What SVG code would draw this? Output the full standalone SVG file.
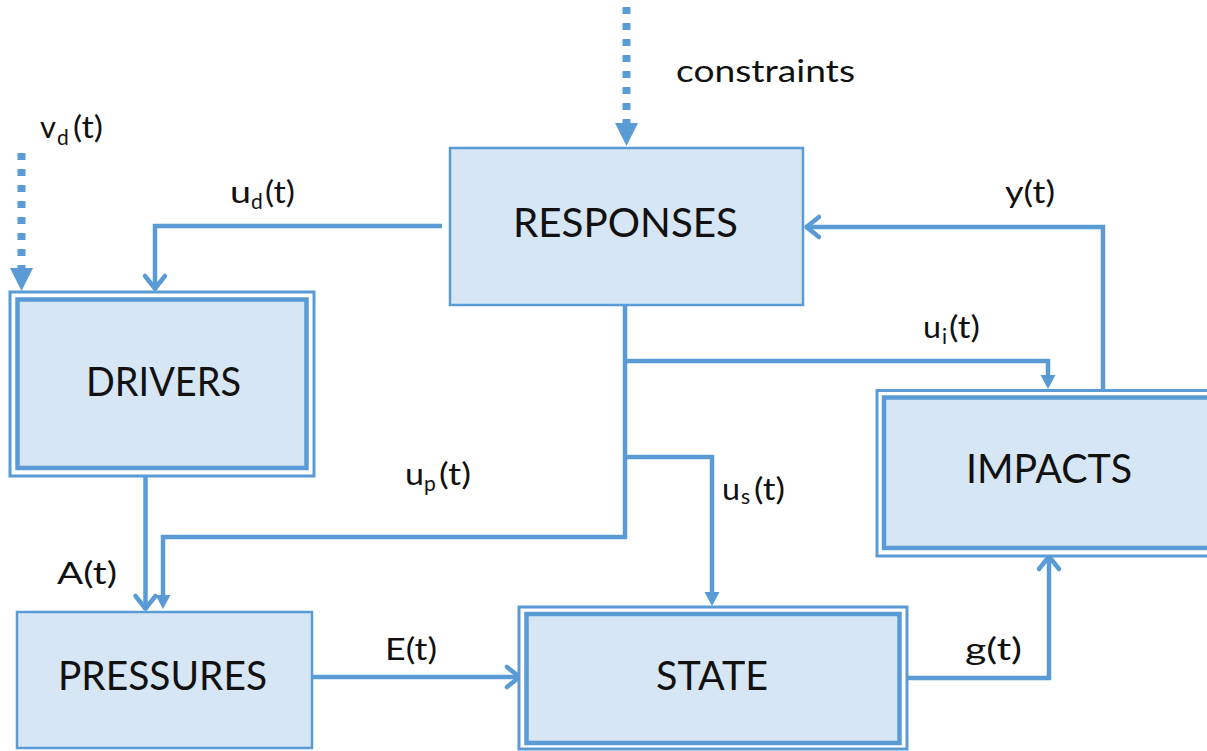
<svg xmlns="http://www.w3.org/2000/svg" width="1207" height="751" viewBox="0 0 1207 751">
<style>
.box{fill:#D7E6F4;stroke:#5B9BD5;stroke-width:2.5}
.outer{fill:#FFFFFF;stroke:#5B9BD5;stroke-width:3}
.inner{fill:#D7E6F4;stroke:#5B9BD5;stroke-width:4.5}
.node{font-family:Lato,"Liberation Sans",sans-serif;font-size:40px;fill:#111;text-anchor:middle}
.lbl{font-family:Lato,"Liberation Sans",sans-serif;font-size:31px;fill:#111}
.sub{font-size:21px}
.wire{fill:none;stroke:#5B9BD5;stroke-width:4.5;stroke-linejoin:miter}
.dot{fill:none;stroke:#5B9BD5;stroke-width:8;stroke-dasharray:7 9}
</style>
<defs>
<marker id="chev" markerUnits="userSpaceOnUse" orient="auto" refX="0" refY="0" markerWidth="40" markerHeight="40" overflow="visible">
<path d="M-14,-10 L-1.5,0 L-14,10" fill="none" stroke="#5B9BD5" stroke-width="4.5" stroke-linecap="round" stroke-linejoin="round"/>
</marker>
<marker id="tri" markerUnits="userSpaceOnUse" orient="auto" refX="0" refY="0" markerWidth="40" markerHeight="40" overflow="visible">
<path d="M-7,-7.5 L7,0 L-7,7.5 Z" fill="#5B9BD5"/>
</marker>
<marker id="bigtri" markerUnits="userSpaceOnUse" orient="auto" refX="0" refY="0" markerWidth="50" markerHeight="50" overflow="visible">
<path d="M0,-11.5 L23,0 L0,11.5 Z" fill="#5B9BD5"/>
</marker>
</defs>

<g id="connectors">
<path class="dot" d="M626.5,7 L626.5,123" marker-end="url(#bigtri)"/>
<path class="dot" d="M21.5,153 L21.5,268" marker-end="url(#bigtri)"/>
<path class="wire" d="M442,226 L155,226 L155,290" marker-end="url(#chev)"/>
<path class="wire" d="M1103,397 L1103,227 L805,227" marker-end="url(#chev)"/>
<path class="wire" d="M145.5,477 L145.5,610" marker-end="url(#chev)"/>
<path class="wire" d="M312,677 L521,677" marker-end="url(#chev)"/>
<path class="wire" d="M903,678 L1049,678 L1049,555" marker-end="url(#chev)"/>
<path class="wire" d="M625,305 L625,537 L163,537 L163,602" marker-end="url(#tri)"/>
<path class="wire" d="M625,361 L1048,361 L1048,382" marker-end="url(#tri)"/>
<path class="wire" d="M625,457 L712,457 L712,599" marker-end="url(#tri)"/>
</g>

<g id="labels">
<text class="lbl" x="676" y="82" textLength="179" lengthAdjust="spacingAndGlyphs">constraints</text>
<text class="lbl"><tspan x="40" y="138" textLength="16" lengthAdjust="spacingAndGlyphs">v</tspan><tspan class="sub" x="57" y="145">d</tspan><tspan x="73" y="138" textLength="30" lengthAdjust="spacingAndGlyphs">(t)</tspan></text>
<text class="lbl"><tspan x="230" y="203" textLength="21" lengthAdjust="spacingAndGlyphs">u</tspan><tspan class="sub" x="251" y="209">d</tspan><tspan x="265" y="203" textLength="30" lengthAdjust="spacingAndGlyphs">(t)</tspan></text>
<text class="lbl" x="1005" y="203" textLength="50" lengthAdjust="spacingAndGlyphs">y(t)</text>
<text class="lbl"><tspan x="923" y="338" textLength="18" lengthAdjust="spacingAndGlyphs">u</tspan><tspan class="sub" x="942" y="344">i</tspan><tspan x="949" y="338" textLength="31" lengthAdjust="spacingAndGlyphs">(t)</tspan></text>
<text class="lbl"><tspan x="405" y="485" textLength="19" lengthAdjust="spacingAndGlyphs">u</tspan><tspan class="sub" x="424" y="491">p</tspan><tspan x="439" y="485" textLength="32" lengthAdjust="spacingAndGlyphs">(t)</tspan></text>
<text class="lbl"><tspan x="722" y="500" textLength="18" lengthAdjust="spacingAndGlyphs">u</tspan><tspan class="sub" x="741" y="504">s</tspan><tspan x="754" y="500" textLength="31" lengthAdjust="spacingAndGlyphs">(t)</tspan></text>
<text class="lbl" x="57" y="584" textLength="60" lengthAdjust="spacingAndGlyphs">A(t)</text>
<text class="lbl" x="385" y="660" textLength="52" lengthAdjust="spacingAndGlyphs">E(t)</text>
<text class="lbl" x="965" y="660" textLength="57" lengthAdjust="spacingAndGlyphs">g(t)</text>
</g>

<g id="responses">
<rect class="box" x="450" y="148" width="353" height="157"/>
<text class="node" x="625.5" y="237" textLength="225" lengthAdjust="spacingAndGlyphs">RESPONSES</text>
</g>

<g id="drivers">
<rect class="outer" x="10" y="292" width="304" height="184"/>
<rect class="inner" x="17.5" y="299.5" width="289" height="168.5"/>
<text class="node" x="163.5" y="396" textLength="155" lengthAdjust="spacingAndGlyphs">DRIVERS</text>
</g>

<g id="impacts">
<rect class="outer" x="877" y="390.5" width="345" height="165.5"/>
<rect class="inner" x="884" y="397.5" width="340" height="150.5"/>
<text class="node" x="1049" y="483" textLength="166" lengthAdjust="spacingAndGlyphs">IMPACTS</text>
</g>

<g id="pressures">
<rect class="box" x="17" y="612" width="295" height="136"/>
<text class="node" x="162.5" y="690" textLength="209" lengthAdjust="spacingAndGlyphs">PRESSURES</text>
</g>

<g id="state">
<rect class="outer" x="519" y="607" width="388" height="142"/>
<rect class="inner" x="526.5" y="614" width="373" height="129"/>
<text class="node" x="712" y="690" textLength="112" lengthAdjust="spacingAndGlyphs">STATE</text>
</g>
</svg>
